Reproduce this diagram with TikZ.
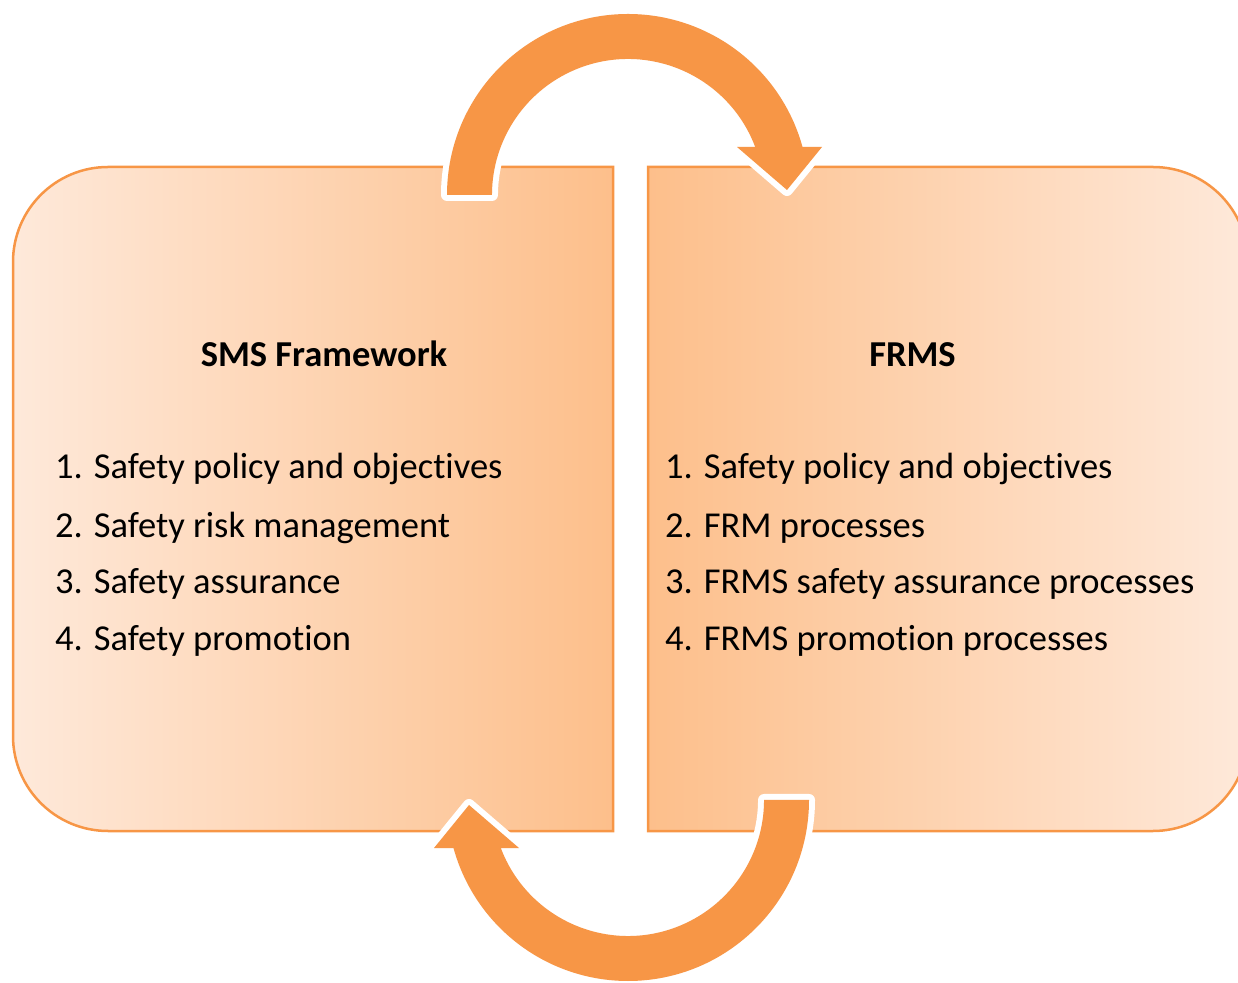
\documentclass[tikz,border=0pt]{standalone}
\usepackage{fontspec}
\setmainfont{Carlito}[Ligatures=NoCommon]
\definecolor{arrowor}{HTML}{F79646}
\definecolor{boxlight}{HTML}{FEE9DA}
\definecolor{boxdark}{HTML}{FDBF8B}
\begin{document}
\begin{tikzpicture}[x=1pt,y=1pt,
  item/.style={anchor=base west, inner sep=0pt, font=\fontsize{36.5}{44}\selectfont},
  boxtitle/.style={anchor=base, inner sep=0pt, font=\fontsize{36.5}{44}\selectfont\bfseries},
  boxline/.style={draw=arrowor, line width=2.5pt},
  cyclearrow/.style={fill=arrowor, preaction={draw=white, line width=12pt, line join=round}}]
\useasboundingbox (0,0) rectangle (1238,982);
\clip (0,0) rectangle (1238,982);
% boxes
\path[boxline, left color=boxlight, right color=boxdark]
  (613,815) -- (108,815) arc[start angle=90, end angle=180, radius=95]
  -- (13,246) arc[start angle=180, end angle=270, radius=95] -- (613,151) -- cycle;
\path[boxline, left color=boxdark, right color=boxlight]
  (648,815) -- (1153,815) arc[start angle=90, end angle=0, radius=95]
  -- (1248,246) arc[start angle=0, end angle=-90, radius=95] -- (648,151) -- cycle;
% arrows
\path[cyclearrow]
  (447,787) arc[start angle=180, end angle=15.38, radius=181]
  -- (822,835) -- (787,792) -- (737,835) -- (755.2,835)
  arc[start angle=20.67, end angle=180, radius=136] -- cycle;
\path[cyclearrow, rotate around={180:(628,484.5)}]
  (447,787) arc[start angle=180, end angle=15.38, radius=181]
  -- (822,835) -- (787,792) -- (737,835) -- (755.2,835)
  arc[start angle=20.67, end angle=180, radius=136] -- cycle;
% texts
\node[boxtitle] (smst) at (324,615) {SMS Framework};
\node[item] (sms1) at (55,503) {1. Safety policy and objectives};
\node[item] (sms2) at (55,444) {2. Safety risk management};
\node[item] (sms3) at (55,388) {3. Safety assurance};
\node[item] (sms4) at (55,331) {4. Safety promotion};
\node[boxtitle] (frmst) at (912.5,615) {FRMS};
\node[item] (frms1) at (665,503) {1. Safety policy and objectives};
\node[item] (frms2) at (665,444) {2. FRM processes};
\node[item] (frms3) at (665,388) {3. FRMS safety assurance processes};
\node[item] (frms4) at (665,331) {4. FRMS promotion processes};
\end{tikzpicture}
\end{document}
